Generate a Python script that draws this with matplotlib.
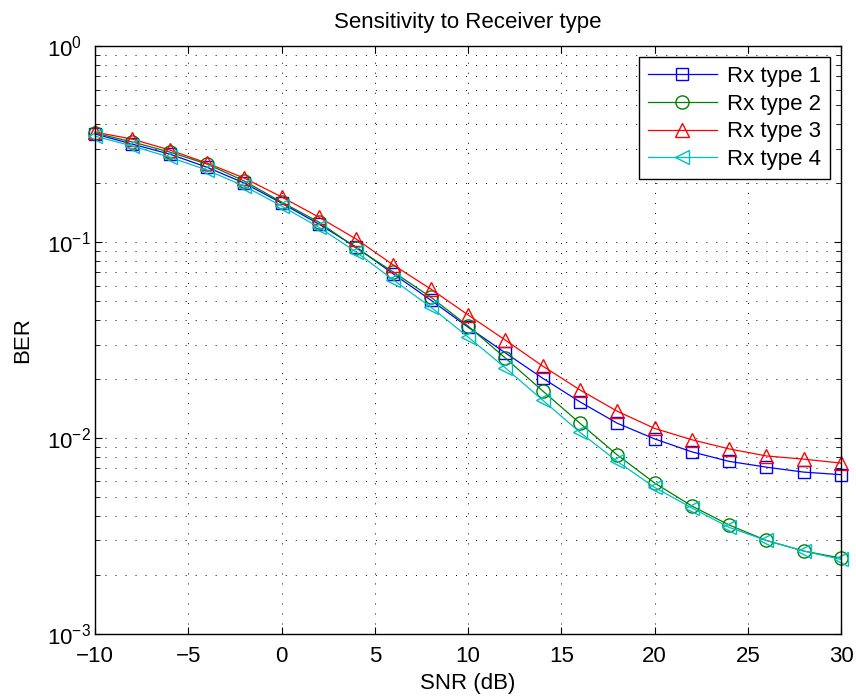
import numpy as np
import matplotlib
matplotlib.use('Agg')
import matplotlib.pyplot as plt
from matplotlib.ticker import LogLocator, NullFormatter, MultipleLocator

plt.rcParams['font.family'] = ['Liberation Sans', 'DejaVu Sans']
plt.rcParams['mathtext.fontset'] = 'custom'
plt.rcParams['mathtext.rm'] = 'Liberation Sans'

snr = np.arange(-10, 31, 2)

# BER
ber_rx1 = [0.356, 0.316, 0.281, 0.241, 0.200, 0.158, 0.1236, 0.0943, 0.0687, 0.0506, 0.0368,
           0.0272, 0.0202, 0.0153, 0.0119, 0.0099, 0.0085, 0.0076, 0.0071, 0.0067, 0.0065]
ber_rx2 = [0.360, 0.324, 0.288, 0.250, 0.205, 0.160, 0.1265, 0.0932, 0.0703, 0.0524, 0.0373,
           0.0256, 0.0174, 0.0119, 0.0082, 0.0059, 0.0045, 0.0036, 0.0030, 0.00265, 0.00244]
ber_rx3 = [0.364, 0.335, 0.295, 0.253, 0.212, 0.170, 0.134, 0.1036, 0.0763, 0.0576, 0.0425,
           0.0316, 0.0233, 0.0176, 0.0137, 0.0112, 0.0098, 0.0088, 0.0081, 0.0078, 0.00745]
ber_rx4 = [0.347, 0.309, 0.271, 0.233, 0.193, 0.1527, 0.119, 0.089, 0.064, 0.0466, 0.0328,
           0.0228, 0.0156, 0.0107, 0.0076, 0.0056, 0.0044, 0.0035, 0.0030, 0.00265, 0.00240]

labels = ['Rx type 1', 'Rx type 2', 'Rx type 3', 'Rx type 4']
colors = [(0, 0, 1), (0, 0.5, 0), (1, 0, 0), (0, 0.75, 0.75)]
markers = ['s', 'o', '^', '<']
msizes = [8, 9.5, 10.5, 10.5]

fig = plt.figure(figsize=(8.56, 6.98), dpi=100)
ax = fig.add_axes([0.111, 0.0917, 0.8715, 0.8423])

for ber, lab, c, m, ms in zip([ber_rx1, ber_rx2, ber_rx3, ber_rx4], labels, colors, markers, msizes):
    ax.semilogy(snr, ber, color=c, marker=m, markerfacecolor='none', markeredgecolor=c,
                markersize=ms, linewidth=0.9, markeredgewidth=1.0, label=lab, clip_on=False)

ax.set_xlim(-10, 30)
ax.set_ylim(1e-3, 1)
ax.xaxis.set_major_locator(MultipleLocator(5))
ax.yaxis.set_major_locator(LogLocator(base=10, numticks=10))
ax.yaxis.set_minor_locator(LogLocator(base=10, subs=np.arange(2, 10), numticks=10))
ax.yaxis.set_minor_formatter(NullFormatter())

dots = (0, (1, 9.3))
ax.grid(True, which='major', color='k', linestyle=dots, linewidth=0.7)
ax.grid(True, which='minor', axis='y', color='k', linestyle=dots, linewidth=0.7)
ax.tick_params(which='both', direction='in', top=True, right=True, labelsize=16)
ax.tick_params(which='major', length=5)
ax.tick_params(which='minor', length=3.5)
ax.tick_params(axis='x', pad=9)
ax.tick_params(axis='y', pad=34.5)
for s in ax.spines.values():
    s.set_linewidth(1.0)

ax.set_xlabel('SNR (dB)', fontsize=16, labelpad=4)
ax.set_ylabel('BER', fontsize=16, labelpad=10)
ax.set_title('Sensitivity to Receiver type', fontsize=16, pad=13)

leg = ax.legend(loc='upper right', fontsize=16, fancybox=False, edgecolor='k',
                framealpha=1, borderaxespad=0.5, handlelength=3.1, handletextpad=0.45,
                labelspacing=0.3, borderpad=0.4)
leg.get_frame().set_linewidth(1.0)

# MATLAB-style: the "10" bases line up on the left
fig.canvas.draw()
for lbl in ax.get_yticklabels():
    lbl.set_horizontalalignment('left')

fig.savefig('out.png', dpi=100)
